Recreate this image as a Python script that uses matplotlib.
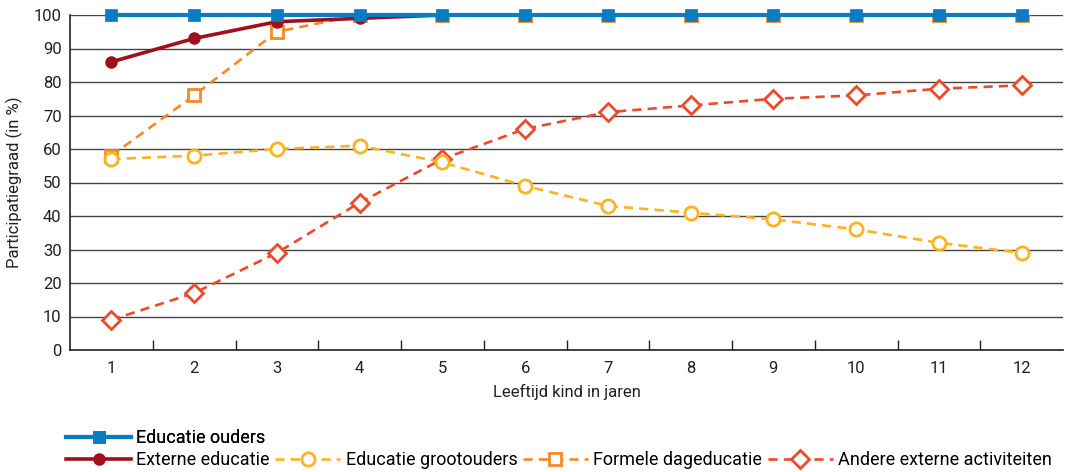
import matplotlib
matplotlib.use("Agg")
import matplotlib.pyplot as plt
from matplotlib.ticker import FixedLocator, NullFormatter

plt.rcParams['font.family'] = ['Roboto', 'DejaVu Sans']

ages = [1, 2, 3, 4, 5, 6, 7, 8, 9, 10, 11, 12]
educatie_ouders = [100, 100, 100, 100, 100, 100, 100, 100, 100, 100, 100, 100]
externe_educatie = [86, 93, 98, 99, 100, 100, 100, 100, 100, 100, 100, 100]
educatie_grootouders = [57, 58, 60, 61, 56, 49, 43, 41, 39, 36, 32, 29]
formele_dageducatie = [58, 76, 95, 100, 100, 100, 100, 100, 100, 100, 100, 100]
andere_externe = [9, 17, 29, 44, 57, 66, 71, 73, 75, 76, 78, 79]
yticks = [0, 10, 20, 30, 40, 50, 60, 70, 80, 90, 100]

c_blue = '#0A7CC4'
c_red = '#A0101A'
c_yellow = '#FBB321'
c_orange = '#F58A25'
c_redor = '#EC4A2C'

fig = plt.figure(figsize=(10.77, 4.72), dpi=100)
W, H = 1077, 472
ax = fig.add_axes([70 / W, 1 - 350 / H, (1063 - 70) / W, (350 - 15) / H])

ax.set_xlim(0.5, 12.5)
ax.set_ylim(0, 100)
ax.set_yticks(yticks)
ax.yaxis.grid(True, color='#444444', linewidth=1.0, zorder=0)
ax.set_axisbelow(True)
for s in ['top', 'right']:
    ax.spines[s].set_visible(False)
for s in ['left', 'bottom']:
    ax.spines[s].set_color('#222222')
    ax.spines[s].set_linewidth(1.2)

ax.set_xticks(ages)
ax.tick_params(axis='x', length=0, labelsize=12, pad=8, colors='#222222')
ax.xaxis.set_minor_locator(FixedLocator([a + 0.5 for a in ages[:-1]]))
ax.xaxis.set_minor_formatter(NullFormatter())
ax.tick_params(axis='x', which='minor', direction='in', length=7, width=1, color='#222222')
ax.tick_params(axis='y', length=0, labelsize=12, pad=6, colors='#222222')

dash = (0, (3.5, 2.3))
l_and, = ax.plot(ages, andere_externe, color=c_redor, linestyle=dash, linewidth=1.9,
                 marker='D', markersize=9, markerfacecolor='white', markeredgecolor=c_redor,
                 markeredgewidth=2, zorder=3, label='Andere externe activiteiten')
l_for, = ax.plot(ages, formele_dageducatie, color=c_orange, linestyle=dash, linewidth=1.9,
                 marker='s', markersize=8.7, markerfacecolor='white', markeredgecolor=c_orange,
                 markeredgewidth=2, zorder=4, label='Formele dageducatie')
l_gro, = ax.plot(ages, educatie_grootouders, color=c_yellow, linestyle=dash, linewidth=1.9,
                 marker='o', markersize=9.5, markerfacecolor='white', markeredgecolor=c_yellow,
                 markeredgewidth=2, zorder=5, label='Educatie grootouders')
l_ext, = ax.plot(ages, externe_educatie, color=c_red, linestyle='-', linewidth=2.6,
                 marker='o', markersize=8, markerfacecolor=c_red, markeredgecolor=c_red,
                 zorder=6, label='Externe educatie')
l_oud, = ax.plot(ages, educatie_ouders, color=c_blue, linestyle='-', linewidth=3,
                 marker='s', markersize=9, markerfacecolor=c_blue, markeredgecolor=c_blue,
                 markeredgewidth=0.5, zorder=7, label='Educatie ouders', clip_on=False)

ax.set_ylabel('Participatiegraad (in %)', fontsize=12, color='#222222', labelpad=8)
ax.set_xlabel('Leeftijd kind in jaren', fontsize=12, color='#222222', labelpad=6)

leg1 = fig.legend(handles=[l_oud], loc='upper left', bbox_to_anchor=(66 / W, 1 - 429 / H),
                  frameon=False, fontsize=13, handlelength=3.6, handletextpad=0.3,
                  borderaxespad=0, borderpad=0)
leg2 = fig.legend(handles=[l_ext, l_gro, l_for, l_and], loc='upper left',
                  bbox_to_anchor=(66 / W, 1 - 451 / H), ncol=4,
                  frameon=False, fontsize=13, handlelength=3.6, handletextpad=0.3,
                  columnspacing=0.3, borderaxespad=0, borderpad=0)
fig.add_artist(leg1)

fig.savefig('out.png', dpi=100)
